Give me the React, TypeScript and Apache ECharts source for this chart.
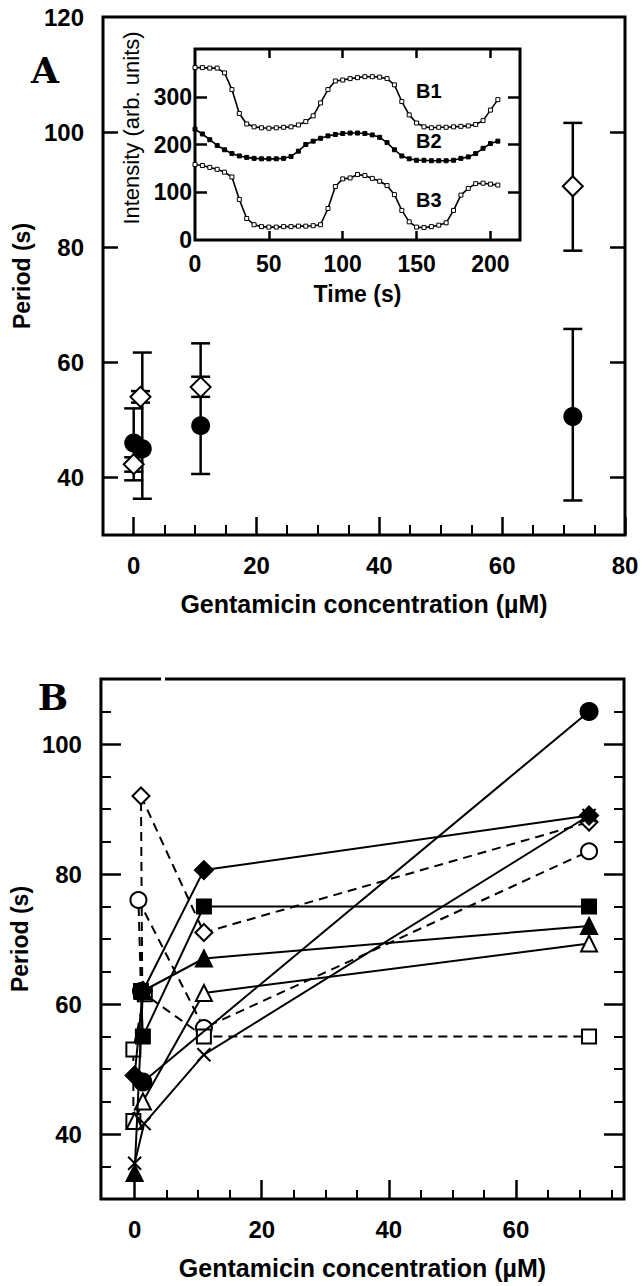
import React, { useEffect, useRef } from 'react';
import * as echarts from 'echarts';

const FONT = '"Liberation Sans", Arial, Helvetica, sans-serif';

// ---------- Panel A: mean period vs gentamicin concentration ----------
const aCircleConc = [0, 1.4, 10.9, 71.5];
const aCirclePeriod = [46, 45, 49, 50.6];
const aCircleLow = [39.5, 36.3, 40.6, 36];
const aCircleHigh = [52, 61.7, 63.3, 65.8];
const aDiamondConc = [0, 1.1, 10.9, 71.5];
const aDiamondPeriod = [42.3, 54, 55.7, 90.6];
const aDiamondLow = [41, 53, 54, 79.4];
const aDiamondHigh = [43.5, 55, 57.5, 101.6];
const aXTicks = [0, 20, 40, 60, 80];
const aXMinor = [5, 10, 15, 25, 30, 35, 45, 50, 55, 65, 70, 75];
const aYTicks = [40, 60, 80, 100];
const aYLabels = [40, 60, 80, 100, 120];

// ---------- Inset: intensity traces ----------
const insetTime = [0, 5, 10, 15, 20, 25, 30, 35, 40, 45, 50, 55, 60, 65, 70, 75, 80, 85, 90, 95, 100, 105, 110, 115, 120, 125, 130, 135, 140, 145, 150, 155, 160, 165, 170, 175, 180, 185, 190, 195, 200, 205];
const traceB1 = [361, 361, 360, 360, 350, 315, 265, 243, 237, 235, 234, 235, 236, 237, 241, 248, 260, 287, 315, 333, 335, 338, 340, 342, 342, 341, 338, 325, 290, 262, 245, 237, 235, 236, 236, 237, 238, 239, 242, 250, 272, 294];
const traceB2 = [232, 222, 210, 198, 189, 181, 176, 173, 171, 170, 170, 170, 171, 175, 186, 200, 207, 213, 218, 221, 223, 224, 224, 223, 220, 215, 204, 189, 176, 170, 167, 167, 166, 166, 166, 167, 171, 174, 181, 192, 202, 207];
const traceB3 = [158, 156, 152, 148, 142, 132, 85, 45, 32, 28, 27, 27, 28, 28, 29, 29, 30, 32, 66, 112, 128, 130, 137, 135, 129, 123, 114, 95, 62, 38, 27, 26, 28, 31, 36, 62, 94, 108, 118, 119, 117, 115];
const insetXTicks = [50, 100, 150, 200];
const insetXLabels = [0, 50, 100, 150, 200];
const insetYTicks = [100, 200, 300];
const insetYLabels = [0, 100, 200, 300];

// ---------- Panel B: individual cells ----------
const bFilledCircle = [[1.3, 48], [71.5, 105]];
const bFilledDiamond = [[0, 49], [1.3, 62], [10.9, 80.6], [71.5, 89]];
const bFilledSquare = [[1.0, 62], [1.3, 55], [10.9, 75], [71.5, 75]];
const bFilledTriangle = [[0, 34], [1.3, 62], [10.9, 67], [71.5, 72]];
const bOpenTriangle = [[0, 42], [1.3, 45], [10.9, 61.7], [71.5, 69.3]];
const bCross = [[0, 35.5], [1.5, 41.6], [10.9, 52.2], [71.5, 89]];
const bOpenDiamond = [[1.2, 62], [1.0, 92], [10.9, 71], [71.5, 88]];
const bOpenCircle = [[1.0, 62], [0.6, 76], [10.9, 56.3], [71.5, 83.5]];
const bOpenSquare = [[-0.2, 42], [-0.2, 53], [1.6, 61.5], [10.9, 55], [71.5, 55]];
const bXTicks = [0, 20, 40, 60];
const bXMinor = [5, 10, 15, 25, 30, 35, 45, 50, 55, 65, 70, 75];
const bYTicks = [40, 60, 80, 100];
const bYMinor = [35, 45, 50, 55, 65, 70, 75, 85, 90, 95, 105];

const BLACK = '#000';
const tickLabel = (size: number) => ({ fontSize: size, fontWeight: 'bold', color: BLACK, fontFamily: FONT });
const nameStyle = (size: number) => ({ fontSize: size, fontWeight: 'bold', color: BLACK, fontFamily: FONT });

function tickAxis(extra: any) {
  return {
    type: 'value',
    axisLine: { show: false, onZero: false },
    splitLine: { show: false },
    ...extra,
  };
}

const crossPath = 'path://M0,0L10,10M10,0L0,10';

function errorBarRender(params: any, api: any) {
  const x = api.value(0);
  const lo = api.coord([x, api.value(1)]);
  const hi = api.coord([x, api.value(2)]);
  const w = 9.5;
  const st = { stroke: BLACK, lineWidth: 2.5 };
  return {
    type: 'group',
    children: [
      { type: 'line', shape: { x1: lo[0], y1: lo[1], x2: hi[0], y2: hi[1] }, style: st },
      { type: 'line', shape: { x1: lo[0] - w, y1: lo[1], x2: lo[0] + w, y2: lo[1] }, style: st },
      { type: 'line', shape: { x1: hi[0] - w, y1: hi[1], x2: hi[0] + w, y2: hi[1] }, style: st },
    ],
  };
}

function bLine(name: string, data: number[][], symbol: string, filled: boolean, dashed: boolean, size: number) {
  return {
    type: 'line',
    name,
    xAxisIndex: 4,
    yAxisIndex: 4,
    data,
    symbol,
    symbolSize: size,
    showAllSymbol: true,
    silent: true,
    lineStyle: { color: BLACK, width: 2, type: dashed ? [9, 6] : 'solid' },
    itemStyle: { color: filled ? BLACK : '#fff', borderColor: BLACK, borderWidth: 2, opacity: 1 },
    z: filled ? 4 : 3,
  };
}

function insetLine(name: string, data: number[], filled: boolean) {
  return {
    type: 'line',
    name,
    xAxisIndex: 2,
    yAxisIndex: 2,
    data: insetTime.map((t, i) => [t, data[i]]),
    symbol: 'rect',
    symbolSize: 4,
    showAllSymbol: true,
    silent: true,
    lineStyle: { color: BLACK, width: 1.6 },
    itemStyle: { color: filled ? BLACK : '#fff', borderColor: BLACK, borderWidth: 1, opacity: 1 },
  };
}

const textStyle = (text: string, font: string, align: string) => ({
  text, font, fill: BLACK, align, verticalAlign: 'middle', textAlign: align, textVerticalAlign: 'middle',
});

const majorTick = (len: number, values: number[]) => ({ show: true, inside: true, length: len, lineStyle: { width: 2.5, color: BLACK }, customValues: values });
const minorTick = (len: number, values: number[]) => ({ show: true, inside: true, length: len, lineStyle: { width: 2, color: BLACK }, customValues: values });

function buildOption(): any {
  return {
    animation: false,
    backgroundColor: '#fff',
    textStyle: { fontFamily: FONT },
    grid: [
      { left: 103, top: 17, width: 522, height: 518, show: true, borderColor: BLACK, borderWidth: 3, backgroundColor: 'transparent' },
      { left: 195, top: 49, width: 325, height: 191, show: true, borderColor: BLACK, borderWidth: 3, backgroundColor: 'transparent' },
      { left: 99, top: 679, width: 525, height: 520, show: true, borderColor: BLACK, borderWidth: 3, backgroundColor: 'transparent' },
    ],
    xAxis: [
      tickAxis({
        gridIndex: 0, min: -5, max: 80, position: 'bottom',
        axisTick: majorTick(18, aXTicks),
        axisLabel: { ...tickLabel(24), margin: 18, customValues: aXTicks },
        name: 'Gentamicin concentration (µM)', nameLocation: 'middle', nameGap: 56, nameTextStyle: nameStyle(25),
      }),
      tickAxis({
        gridIndex: 0, min: -5, max: 80, position: 'bottom',
        axisTick: minorTick(10, aXMinor),
        axisLabel: { show: false },
      }),
      tickAxis({
        gridIndex: 1, min: 0, max: 220, position: 'bottom',
        axisTick: majorTick(9, insetXTicks),
        axisLabel: { ...tickLabel(23), margin: 12, customValues: insetXLabels },
        name: 'Time (s)', nameLocation: 'middle', nameGap: 42, nameTextStyle: nameStyle(23),
      }),
      tickAxis({
        gridIndex: 1, min: 0, max: 220, position: 'top',
        axisTick: majorTick(9, insetXTicks),
        axisLabel: { show: false },
      }),
      tickAxis({
        gridIndex: 2, min: -5.3, max: 77, position: 'bottom',
        axisTick: majorTick(19, bXTicks),
        axisLabel: { ...tickLabel(24), margin: 18, customValues: bXTicks },
        name: 'Gentamicin concentration (µM)', nameLocation: 'middle', nameGap: 56, nameTextStyle: nameStyle(25),
      }),
      tickAxis({
        gridIndex: 2, min: -5.3, max: 77, position: 'bottom',
        axisTick: minorTick(9, bXMinor),
        axisLabel: { show: false },
      }),
    ],
    yAxis: [
      tickAxis({
        gridIndex: 0, min: 30, max: 120, position: 'left',
        axisTick: majorTick(15, aYTicks),
        axisLabel: { ...tickLabel(24), margin: 19, customValues: aYLabels },
        name: 'Period (s)', nameLocation: 'middle', nameGap: 68, nameTextStyle: nameStyle(23),
      }),
      tickAxis({
        gridIndex: 0, min: 30, max: 120, position: 'right',
        axisTick: majorTick(15, aYTicks),
        axisLabel: { show: false },
      }),
      tickAxis({
        gridIndex: 1, min: 0, max: 400, position: 'left',
        axisTick: majorTick(12, insetYTicks),
        axisLabel: { ...tickLabel(23), margin: 3, customValues: insetYLabels },
      }),
      tickAxis({
        gridIndex: 1, min: 0, max: 400, position: 'right',
        axisTick: majorTick(12, insetYTicks),
        axisLabel: { show: false },
      }),
      tickAxis({
        gridIndex: 2, min: 30, max: 110, position: 'left',
        axisTick: majorTick(20, bYTicks),
        axisLabel: { ...tickLabel(24), margin: 19, customValues: bYTicks },
        name: 'Period (s)', nameLocation: 'middle', nameGap: 65, nameTextStyle: nameStyle(23),
      }),
      tickAxis({
        gridIndex: 2, min: 30, max: 110, position: 'left',
        axisTick: minorTick(10, bYMinor),
        axisLabel: { show: false },
      }),
      tickAxis({
        gridIndex: 2, min: 30, max: 110, position: 'right',
        axisTick: majorTick(20, bYTicks),
        axisLabel: { show: false },
      }),
      tickAxis({
        gridIndex: 2, min: 30, max: 110, position: 'right',
        axisTick: minorTick(10, bYMinor),
        axisLabel: { show: false },
      }),
    ],
    series: [
      // Panel A error bars and markers
      {
        type: 'custom', xAxisIndex: 0, yAxisIndex: 0, silent: true, z: 2,
        renderItem: errorBarRender, encode: { x: 0, y: [1, 2] },
        data: aCircleConc.map((x, i) => [x, aCircleLow[i], aCircleHigh[i]]),
      },
      {
        type: 'custom', xAxisIndex: 0, yAxisIndex: 0, silent: true, z: 2,
        renderItem: errorBarRender, encode: { x: 0, y: [1, 2] },
        data: aDiamondConc.map((x, i) => [x, aDiamondLow[i], aDiamondHigh[i]]),
      },
      {
        type: 'scatter', xAxisIndex: 0, yAxisIndex: 0, silent: true, z: 3,
        symbol: 'circle', symbolSize: 19, itemStyle: { color: BLACK, opacity: 1 },
        data: aCircleConc.map((x, i) => [x, aCirclePeriod[i]]),
      },
      {
        type: 'scatter', xAxisIndex: 0, yAxisIndex: 0, silent: true, z: 4,
        symbol: 'diamond', symbolSize: 20, itemStyle: { color: '#fff', borderColor: BLACK, borderWidth: 2, opacity: 1 },
        data: aDiamondConc.map((x, i) => [x, aDiamondPeriod[i]]),
      },
      // Inset traces
      insetLine('B1', traceB1, false),
      insetLine('B2', traceB2, true),
      insetLine('B3', traceB3, false),
      // Panel B cells
      bLine('openDiamond', bOpenDiamond, 'diamond', false, true, 17),
      bLine('openCircle', bOpenCircle, 'circle', false, true, 16),
      bLine('openSquare', bOpenSquare, 'rect', false, true, 14),
      bLine('openTriangle', bOpenTriangle, 'triangle', false, false, 16),
      bLine('filledCircle', bFilledCircle, 'circle', true, false, 17),
      bLine('filledDiamond', bFilledDiamond, 'diamond', true, false, 18),
      bLine('filledSquare', bFilledSquare, 'rect', true, false, 14),
      bLine('filledTriangle', bFilledTriangle, 'triangle', true, false, 16),
      bLine('cross', bCross, crossPath, true, false, 13),
    ],
    graphic: [
      { type: 'rect', x: 161, y: 675, z: 100, shape: { width: 4, height: 8 }, style: { fill: '#fff' } },
      { type: 'text', x: 45, y: 70, style: textStyle('A', 'bold 36px "DejaVu Serif", serif', 'center') },
      { type: 'text', x: 53, y: 697, style: textStyle('B', 'bold 36px "DejaVu Serif", serif', 'center') },
      { type: 'text', x: 131, y: 128, rotation: Math.PI / 2, style: textStyle('Intensity (arb. units)', 'normal 22px "Liberation Sans", Arial, sans-serif', 'center') },
      { type: 'text', x: 416, y: 91, style: textStyle('B1', 'bold 20px "Liberation Sans", Arial, sans-serif', 'left') },
      { type: 'text', x: 416, y: 141, style: textStyle('B2', 'bold 20px "Liberation Sans", Arial, sans-serif', 'left') },
      { type: 'text', x: 416, y: 200, style: textStyle('B3', 'bold 20px "Liberation Sans", Arial, sans-serif', 'left') },
    ],
  };
}

export default function App() {
  const ref = useRef<HTMLDivElement>(null);
  useEffect(() => {
    if (!ref.current) return;
    const chart = echarts.init(ref.current, undefined, { renderer: 'svg' });
    chart.setOption(buildOption());
    return () => chart.dispose();
  }, []);
  return (
    <div
      ref={ref}
      style={{ position: 'absolute', left: 0, top: 0, width: 643, height: 1286, background: '#fff' }}
    />
  );
}
